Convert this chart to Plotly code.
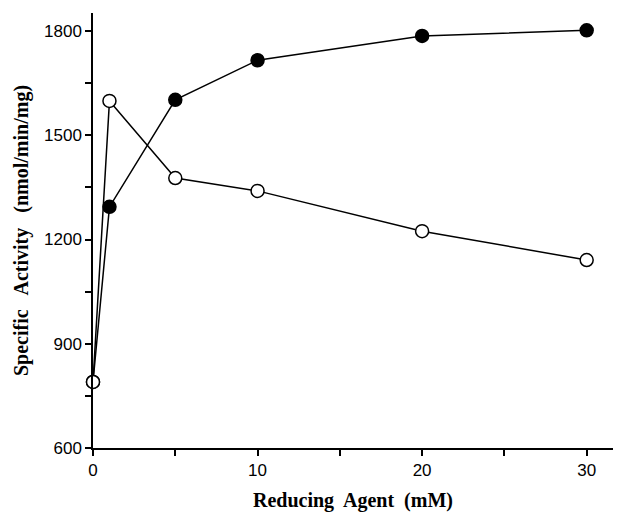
import plotly.graph_objects as go

x_vals = [0, 1, 5, 10, 20, 30]
filled_vals = [790, 1294, 1602, 1716, 1786, 1802]
open_vals = [790, 1599, 1377, 1340, 1224, 1141]

x_ticks = [0, 10, 20, 30]
y_ticks = [600, 900, 1200, 1500, 1800]

fig = go.Figure()
fig.add_trace(go.Scatter(
    x=x_vals, y=filled_vals, mode="lines+markers",
    line=dict(color="black", width=1.5),
    marker=dict(symbol="circle", size=13, color="black", line=dict(color="black", width=1.5)),
    showlegend=False, cliponaxis=False,
))
fig.add_trace(go.Scatter(
    x=x_vals, y=open_vals, mode="lines+markers",
    line=dict(color="black", width=1.5),
    marker=dict(symbol="circle", size=13, color="white", line=dict(color="black", width=1.5)),
    showlegend=False, cliponaxis=False,
))

# page body has an 8px default margin, so the figure is sized to fit inside the window
fig.update_layout(
    width=621, height=504,
    margin=dict(l=85, r=16, t=5, b=64),
    paper_bgcolor="white", plot_bgcolor="white",
    font=dict(family="Liberation Sans, Arial", size=17, color="black"),
)
fig.update_xaxes(
    range=[0, 31.6], tickvals=x_ticks, ticktext=[str(v) for v in x_ticks],
    automargin=False,
    showline=True, linecolor="black", linewidth=1.5, showgrid=False, zeroline=False,
    ticks="outside", ticklen=6, tickwidth=1.5, tickcolor="black",
    minor=dict(dtick=5, ticks="outside", ticklen=6, tickwidth=1.5, tickcolor="black", showgrid=False),
    tickfont=dict(family="Liberation Sans, Arial", size=17),
    title=dict(text="Reducing  Agent  (mM)", font=dict(family="Liberation Serif, Times New Roman", size=20, weight="bold"), standoff=14),
)
fig.update_yaxes(
    range=[600, 1852], tickvals=y_ticks,
    automargin=False,
    showline=True, linecolor="black", linewidth=1.5, showgrid=False, zeroline=False,
    ticks="outside", ticklen=6, tickwidth=1.5, tickcolor="black",
    minor=dict(dtick=150, tick0=600, ticks="outside", ticklen=6, tickwidth=1.5, tickcolor="black", showgrid=False),
    tickfont=dict(family="Liberation Sans, Arial", size=17),
    title=dict(text="Specific   Activity   (nmol/min/mg)", font=dict(family="Liberation Serif, Times New Roman", size=20, weight="bold"), standoff=10),
)

fig.write_html("out.html")
